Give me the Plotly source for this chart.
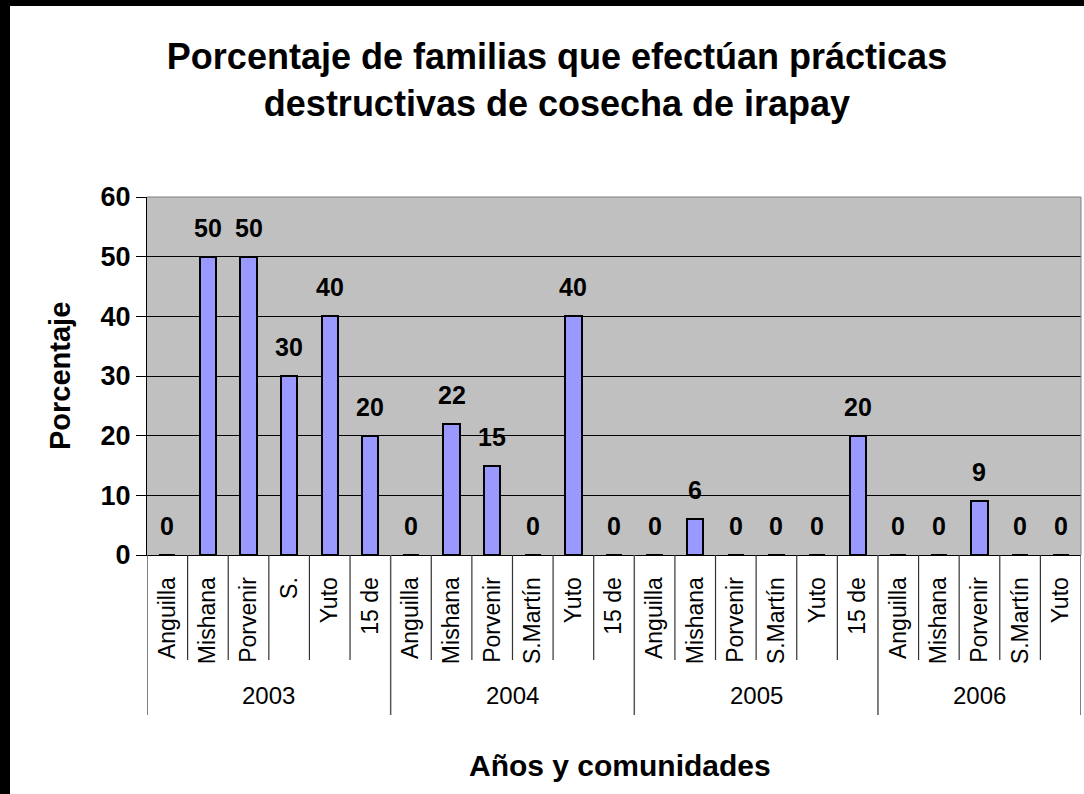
import plotly.graph_objects as go

# ---- data ----
years = ["2003", "2004", "2005", "2006"]
communities_2003 = ["Anguilla", "Mishana", "Porvenir", "S.", "Yuto", "15 de"]
communities_2004 = ["Anguilla", "Mishana", "Porvenir", "S.Martín", "Yuto", "15 de"]
communities_2005 = ["Anguilla", "Mishana", "Porvenir", "S.Martín", "Yuto", "15 de"]
communities_2006 = ["Anguilla", "Mishana", "Porvenir", "S.Martín", "Yuto"]
values_2003 = [0, 50, 50, 30, 40, 20]
values_2004 = [0, 22, 15, 0, 40, 0]
values_2005 = [0, 6, 0, 0, 0, 20]
values_2006 = [0, 0, 9, 0, 0]
y_ticks = [0, 10, 20, 30, 40, 50, 60]

title_text = "Porcentaje de familias que efectúan prácticas<br>destructivas de cosecha de irapay"
y_title = "Porcentaje"
x_title = "Años y comunidades"

groups = [
    (years[0], communities_2003, values_2003),
    (years[1], communities_2004, values_2004),
    (years[2], communities_2005, values_2005),
    (years[3], communities_2006, values_2006),
]

keys, names, vals = [], [], []
group_bounds = [0]
for yr, comms, vs in groups:
    for c, v in zip(comms, vs):
        keys.append(f"{yr}|{c}")
        names.append(c)
        vals.append(v)
    group_bounds.append(len(keys))

# ---- layout geometry ----
W, H = 1084, 794
L, R, T, B = 147, 3, 197, 239
PW, PH = W - L - R, H - T - B


def px_x(px):
    return (px - L) / PW


def px_y(py):
    return (T + PH - py) / PH


FONT = "Liberation Sans, Arial, sans-serif"

fig = go.Figure()
fig.add_trace(go.Bar(
    x=keys, y=vals, width=0.4,
    marker=dict(color="#9999FF", line=dict(color="black", width=2)),
    hoverinfo="x+y",
))

annotations = []
for k, v in zip(keys, vals):
    annotations.append(dict(
        x=k, y=v, xref="x", yref="y", text=str(v), showarrow=False,
        yshift=29, font=dict(family=FONT, size=25, color="black", weight="bold"),
    ))

# year labels
for i, yr in enumerate(years):
    a, b = group_bounds[i], group_bounds[i + 1]
    annotations.append(dict(
        x=(a + b - 1) / 2, y=px_y(695), xref="x", yref="paper", text=yr,
        showarrow=False, yanchor="middle",
        font=dict(family=FONT, size=24, color="black"),
    ))

annotations.append(dict(
    x=px_x(60), y=0.5, xref="paper", yref="paper", text=y_title, textangle=-90,
    showarrow=False, xanchor="center", yanchor="middle",
    font=dict(family=FONT, size=29, color="black", weight="bold"),
))
annotations.append(dict(
    x=px_x(620), y=px_y(765), xref="paper", yref="paper", text=x_title,
    showarrow=False, xanchor="center", yanchor="middle",
    font=dict(family=FONT, size=30, color="black", weight="bold"),
))

shapes = []
# category boundary lines and group dividers
n = len(keys)
for i in range(n + 1):
    pos = i - 0.5
    if i in group_bounds:
        shapes.append(dict(type="line", xref="x", yref="paper", x0=pos, x1=pos,
                           y0=0, y1=px_y(715), line=dict(color="#555555", width=1.5)))
    else:
        shapes.append(dict(type="line", xref="x", yref="paper", x0=pos, x1=pos,
                           y0=0, y1=px_y(660), line=dict(color="#333333", width=1.2)))

# plot area top/right border
shapes.append(dict(type="line", xref="paper", yref="paper", x0=0, x1=1, y0=1, y1=1,
                   line=dict(color="#808080", width=1)))
shapes.append(dict(type="line", xref="paper", yref="paper", x0=1, x1=1, y0=0, y1=1,
                   line=dict(color="#808080", width=1)))

# black frame pieces (left and top)
shapes.append(dict(type="rect", xref="paper", yref="paper", x0=px_x(0), x1=px_x(10),
                   y0=px_y(H), y1=px_y(0), fillcolor="black", line=dict(width=0)))
shapes.append(dict(type="rect", xref="paper", yref="paper", x0=px_x(0), x1=px_x(W),
                   y0=px_y(6), y1=px_y(0), fillcolor="black", line=dict(width=0)))

fig.update_layout(
    width=W, height=H,
    margin=dict(l=L, r=R, t=T, b=B, autoexpand=False),
    paper_bgcolor="white",
    plot_bgcolor="#C0C0C0",
    showlegend=False,
    bargap=0,
    font=dict(family=FONT, color="black"),
    title=dict(
        text=title_text, x=557 / W, xanchor="center", xref="container",
        y=1 - 69 / H, yanchor="middle", yref="container",
        font=dict(family=FONT, size=36, color="black", weight="bold"),
    ),
    xaxis=dict(
        type="category", categoryorder="array", categoryarray=keys,
        tickvals=keys, ticktext=names, tickangle=-90,
        tickfont=dict(family=FONT, size=23, color="black"),
        ticks="", showgrid=False, showline=True, linecolor="black", linewidth=1,
        range=[-0.5, n - 0.5], ticklabelstandoff=12, automargin=False,
    ),
    yaxis=dict(
        range=[0, 60], tickvals=y_ticks, showgrid=True, gridcolor="black", gridwidth=1,
        showline=True, linecolor="black", linewidth=1, ticks="outside", ticklen=10,
        tickcolor="black", tickfont=dict(family=FONT, size=27, color="black", weight="bold"),
        zeroline=False, automargin=False,
    ),
    annotations=annotations,
    shapes=shapes,
)

fig.write_html(
    "out.html",
    config={"displayModeBar": False},
    post_script="document.body.style.margin='0px';document.body.style.overflow='hidden';",
)
